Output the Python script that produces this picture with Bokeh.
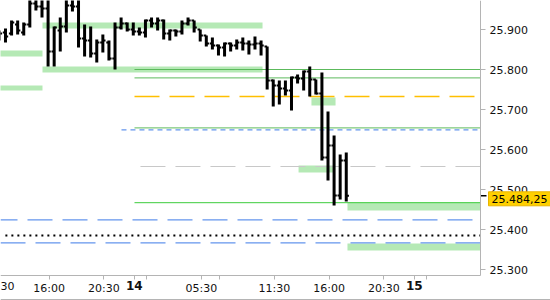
from bokeh.plotting import figure
from bokeh.models import FixedTicker, Label
from bokeh.embed import file_html
from bokeh.resources import INLINE

# ---- OHLC data (30-minute bars, price) ----
bar_open = [25880, 25892.5, 25890, 25912.5, 25892.5, 25912.5, 25965, 25957.5, 25952.5, 25845,
            25897.5, 25907.5, 25960, 25957.5, 25877.5, 25872.5, 25840, 25867.5, 25867.5, 25827.5,
            25905, 25915, 25900, 25895, 25892.5, 25922.5, 25915, 25922.5, 25890, 25897.5,
            25895, 25915, 25922.5, 25900, 25885, 25865, 25860, 25855, 25865, 25860,
            25867.5, 25865, 25862.5, 25865, 25857.5, 25772.5, 25760, 25752.5, 25747.5, 25780,
            25777.5, 25795, 25775, 25740, 25580, 25610, 25485, 25572.5]
bar_high = [25897.5, 25902.5, 25922.5, 25922.5, 25917.5, 25992.5, 25985, 25985, 25985, 25907.5,
            25930, 25992.5, 25985, 25985, 25912.5, 25907.5, 25875, 25887.5, 25872.5, 25917.5,
            25930, 25917.5, 25917.5, 25905, 25925, 25930, 25930, 25925, 25900, 25900,
            25922.5, 25930, 25922.5, 25900, 25885, 25880, 25862.5, 25867.5, 25867.5, 25875,
            25880, 25872.5, 25882.5, 25872.5, 25857.5, 25775, 25772.5, 25772.5, 25782.5, 25787.5,
            25797.5, 25807.5, 25775, 25792.5, 25695, 25635, 25587.5, 25592.5]
bar_low = [25872.5, 25867.5, 25885, 25887.5, 25885, 25905, 25947.5, 25930, 25807.5, 25807.5,
           25845, 25892.5, 25945, 25855, 25832.5, 25830, 25817.5, 25842.5, 25822.5, 25800,
           25900, 25895, 25885, 25885, 25880, 25905, 25897.5, 25875, 25872.5, 25882.5,
           25887.5, 25910, 25892.5, 25870, 25857.5, 25850, 25835, 25832.5, 25845, 25850,
           25847.5, 25837.5, 25850, 25835, 25750, 25707.5, 25712.5, 25735, 25697.5, 25765,
           25747.5, 25732.5, 25737.5, 25572.5, 25522.5, 25460, 25475, 25470]
bar_close = [25890, 25882.5, 25917.5, 25897.5, 25912.5, 25965, 25957.5, 25952.5, 25845, 25905,
             25907.5, 25960, 25957.5, 25877.5, 25872.5, 25840, 25867.5, 25872.5, 25827.5, 25905,
             25915, 25900, 25895, 25892.5, 25922.5, 25915, 25922.5, 25890, 25897.5, 25895,
             25915, 25922.5, 25905, 25885, 25865, 25860, 25855, 25865, 25860, 25867.5,
             25865, 25862.5, 25865, 25860, 25772.5, 25760, 25752.5, 25747.5, 25780, 25777.5,
             25795, 25775, 25740, 25580, 25610, 25485, 25572.5, 25484.25]
first_bar_hour = -0.09   # trading hours after 12:00 on the 13th
bar_hours = 0.5
last_price = 25484.25
last_price_text = "25.484,25"

# ---- horizontal levels (price) ----
zone_left = [-1.0, -1.0, 3.45, 3.45, 25.55, 24.49, 28.51, 28.51]
zone_right = [3.45, 3.45, 21.53, 21.53, 27.53, 27.44, 39.44, 39.44]
zone_top = [25847.5, 25760, 25917.5, 25807.5, 25730, 25560, 25467.5, 25365]
zone_bottom = [25832.5, 25747.5, 25902.5, 25792.5, 25710, 25542.5, 25447.5, 25347.5]

green_levels = [25800, 25779, 25654]
bright_green_level = 25467
orange_level = 25732.5
blue_short_level = 25649
gray_level = 25557.5
blue_long_levels = [25424.25, 25366.75]
dotted_level = 25385

# ---- axes ----
y_ticks = [25300, 25400, 25500, 25600, 25700, 25800, 25900]
y_tick_labels = ["25.300", "25.400", "25.500", "25.600", "25.700", "25.800", "25.900"]
x_ticks = [4, 8.5, 11, 12, 16.5, 18, 22.5, 27, 31.5, 34, 35]
x_tick_labels = ["16:00", "20:30", "", "", "05:30", "", "11:30", "16:00", "20:30", "", ""]
day_ticks = [11, 34]
day_labels = ["14", "15"]
x_start, x_end = 0, 39.44          # price-chart area (hours)
y_start, y_end = 25285, 25972.5    # price-chart area (price)

PX_X = (x_end - x_start) / 480     # hours per pixel
PX_Y = (y_end - y_start) / 275     # price per pixel
canvas_x_end = x_start + 550 * PX_X
canvas_y_start = y_end - 300 * PX_Y

FONT = "DejaVu Sans"
TXT = "#111111"
AXIS_GRAY = "#b4b4b4"

p = figure(width=550, height=300, output_backend="svg", toolbar_location=None,
           x_range=(x_start, canvas_x_end), y_range=(canvas_y_start, y_end),
           y_axis_location="right",
           min_border_left=0, min_border_top=0, min_border_right=0, min_border_bottom=0)
p.outline_line_color = None
p.grid.visible = False
p.background_fill_color = "white"
p.border_fill_color = "white"

# zones
p.quad(left=zone_left, right=zone_right, top=zone_top, bottom=zone_bottom,
       fill_color="#b5e9b5", line_color=None)

# level lines
x0_lines = 11.01
for lv in green_levels:
    p.line([x0_lines, x_end], [lv, lv], line_color="#5cba5c", line_width=1)
p.line([x0_lines, x_end], [bright_green_level] * 2, line_color="#3ccc3c", line_width=1)
p.line([x0_lines, x_end], [orange_level] * 2, line_color="#ffbf00", line_width=1.5,
       line_dash="25 10")
p.line([9.94, x_end], [blue_short_level] * 2, line_color="#6495ed", line_width=1.2,
       line_dash="5 4")
p.line([11.5, x_end], [gray_level] * 2, line_color="#c8c8c8", line_width=1.2,
       line_dash="25 10")
p.line([x_start, x_end], [blue_long_levels[0]] * 2, line_color="#6495ed", line_width=1.2,
       line_dash="25 10", line_dash_offset=8)
p.line([x_start, x_end], [blue_long_levels[1]] * 2, line_color="#6495ed", line_width=1.2,
       line_dash="25 10")
p.line([0.4, x_end], [dotted_level] * 2, line_color="black", line_width=2,
       line_dash="2 4")

# OHLC bars
xs = [first_bar_hour + bar_hours * i for i in range(len(bar_close))]
tick = 0.22
p.segment(x0=xs, y0=bar_low, x1=xs, y1=bar_high, line_color="black", line_width=3)
p.segment(x0=[x - tick for x in xs], y0=bar_open, x1=xs, y1=bar_open,
          line_color="black", line_width=2)
p.segment(x0=xs, y0=bar_close, x1=[x + tick for x in xs], y1=bar_close,
          line_color="black", line_width=2)

# bottom border line of the panel
p.line([x_start, canvas_x_end], [y_start - 24 * PX_Y] * 2, line_color=AXIS_GRAY, line_width=1)

# y axis (right edge of the price area)
ya = p.yaxis[0]
ya.fixed_location = x_end
ya.bounds = (y_start, y_end)
ya.ticker = FixedTicker(ticks=y_ticks)
ya.major_label_overrides = {float(t): s for t, s in zip(y_ticks, y_tick_labels)}
ya.axis_line_color = AXIS_GRAY
ya.major_tick_line_color = AXIS_GRAY
ya.major_tick_out = 5
ya.major_tick_in = 0
ya.minor_tick_line_color = None
ya.major_label_standoff = 4
ya.major_label_text_font = FONT
ya.major_label_text_font_size = "11px"
ya.major_label_text_color = TXT

# x axis (bottom of the price area)
xa = p.xaxis[0]
xa.fixed_location = y_start
xa.bounds = (x_start, x_end)
xa.ticker = FixedTicker(ticks=x_ticks)
xa.major_label_overrides = {float(t): s for t, s in zip(x_ticks, x_tick_labels)}
xa.axis_line_color = AXIS_GRAY
xa.major_tick_line_color = AXIS_GRAY
xa.major_tick_out = 4
xa.major_tick_in = 0
xa.minor_tick_line_color = None
xa.major_label_standoff = 2
xa.major_label_text_font = FONT
xa.major_label_text_font_size = "11px"
xa.major_label_text_color = TXT

# day labels (bold)
day_y = y_start - 5 * PX_Y
for t, s in zip(day_ticks, day_labels):
    p.add_layout(Label(x=t, y=day_y, text=s, text_font=FONT, text_font_size="12px",
                       text_font_style="bold", text_color=TXT, text_align="center",
                       text_baseline="top"))
# the visible tail of the "11:30" label that is cut by the left edge
p.add_layout(Label(x=x_start, y=y_start - 6 * PX_Y, text="30", text_font=FONT,
                   text_font_size="11px", text_color=TXT, text_align="left",
                   text_baseline="top"))

# last price marker and tag
p.segment(x0=[x_end], y0=[last_price], x1=[x_end + 6 * PX_X], y1=[last_price],
          line_color="black", line_width=1.5)
p.add_layout(Label(x=x_end + 8 * PX_X, y=last_price, y_offset=-3, text=last_price_text,
                   text_font=FONT, text_font_size="11px", text_color="black",
                   text_align="left", text_baseline="middle",
                   background_fill_color="#ffd000", border_line_color="#e8b400",
                   padding=3))

open("out.html", "w").write(file_html(p, INLINE))
